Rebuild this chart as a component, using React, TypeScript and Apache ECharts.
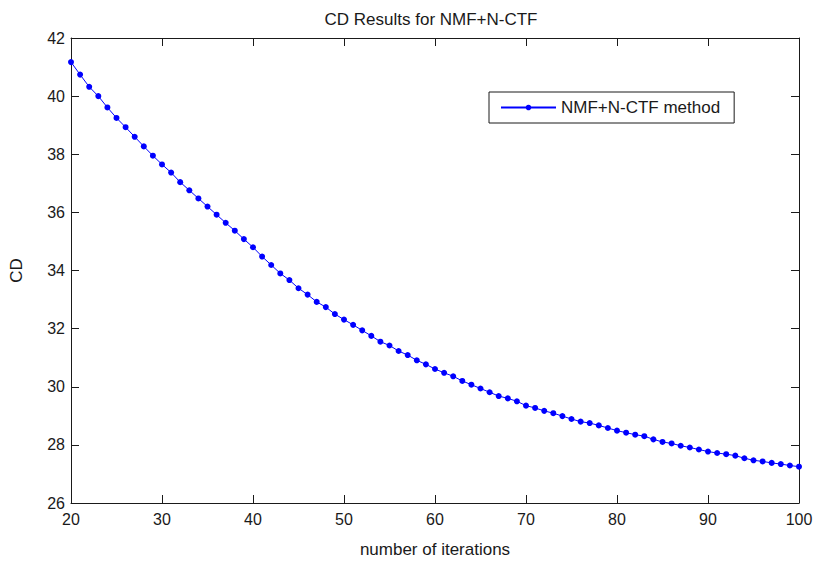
import React, { useEffect, useRef } from "react";
import * as echarts from "echarts";

const iterations = [
  20, 21, 22, 23, 24, 25, 26, 27, 28, 29,
  30, 31, 32, 33, 34, 35, 36, 37, 38, 39,
  40, 41, 42, 43, 44, 45, 46, 47, 48, 49,
  50, 51, 52, 53, 54, 55, 56, 57, 58, 59,
  60, 61, 62, 63, 64, 65, 66, 67, 68, 69,
  70, 71, 72, 73, 74, 75, 76, 77, 78, 79,
  80, 81, 82, 83, 84, 85, 86, 87, 88, 89,
  90, 91, 92, 93, 94, 95, 96, 97, 98, 99,
  100,
];

const cdValues = [
  41.17, 40.74, 40.32, 40.0, 39.61, 39.25, 38.93, 38.6, 38.27, 37.95,
  37.65, 37.37, 37.04, 36.76, 36.48, 36.2, 35.92, 35.64, 35.37, 35.08,
  34.8, 34.48, 34.19, 33.9, 33.67, 33.39, 33.17, 32.92, 32.74, 32.5,
  32.31, 32.13, 31.94, 31.75, 31.55, 31.42, 31.23, 31.09, 30.91, 30.77,
  30.61, 30.48, 30.36, 30.2, 30.07, 29.94, 29.81, 29.68, 29.6, 29.5,
  29.35, 29.27, 29.17, 29.09, 28.99, 28.89, 28.8, 28.75, 28.67, 28.58,
  28.49, 28.42, 28.35, 28.3, 28.19, 28.1, 28.05, 27.97, 27.91, 27.84,
  27.77, 27.72, 27.68, 27.63, 27.54, 27.47, 27.43, 27.38, 27.34, 27.29,
  27.25,
];

const seriesName = "NMF+N-CTF method";
const titleText = "CD Results for NMF+N-CTF";
const xName = "number of iterations";
const yName = "CD";

const FONT = "'Liberation Sans', Arial, sans-serif";
const INK = "#1a1a1a";

export default function App() {
  const ref = useRef<HTMLDivElement>(null);

  useEffect(() => {
    if (!ref.current) return;
    const chart = echarts.init(ref.current, undefined, { renderer: "svg" });
    const data = iterations.map((x, i) => [x, cdValues[i]]);

    const axisCommon = {
      axisLine: { show: true, lineStyle: { color: INK, width: 1 } },
      axisTick: { show: true, inside: true, length: 8, lineStyle: { color: INK, width: 1 } },
      splitLine: { show: false },
    };

    chart.setOption({
      animation: false,
      backgroundColor: "#ffffff",
      textStyle: { fontFamily: FONT },
      graphic: [
        {
          type: "text",
          x: 431,
          y: 19,
          style: {
            text: titleText,
            fill: INK,
            font: `17px ${FONT}`,
            textAlign: "center",
            textVerticalAlign: "middle",
          },
        },
      ],
      grid: { left: 68, top: 38, right: 17, bottom: 51, containLabel: false },
      legend: {
        left: 489,
        top: 92,
        orient: "vertical",
        padding: [7, 14, 7, 11],
        itemWidth: 55,
        itemHeight: 7,
        borderColor: INK,
        borderWidth: 1,
        borderRadius: 0,
        backgroundColor: "#ffffff",
        textStyle: { fontSize: 17, color: INK, fontFamily: FONT },
        data: [seriesName],
      },
      xAxis: [
        {
          type: "value",
          min: 20,
          max: 100,
          interval: 10,
          position: "bottom",
          name: xName,
          nameLocation: "middle",
          nameGap: 38,
          nameTextStyle: { fontSize: 17, color: INK, fontFamily: FONT },
          axisLabel: { fontSize: 16, color: INK, margin: 8, fontFamily: FONT },
          ...axisCommon,
        },
        {
          type: "value",
          min: 20,
          max: 100,
          interval: 10,
          position: "top",
          axisLabel: { show: false },
          ...axisCommon,
        },
      ],
      yAxis: [
        {
          type: "value",
          min: 26,
          max: 42,
          interval: 2,
          position: "left",
          name: yName,
          nameLocation: "middle",
          nameGap: 46,
          nameRotate: 90,
          nameTextStyle: { fontSize: 17, color: INK, fontFamily: FONT },
          axisLabel: { fontSize: 16, color: INK, margin: 6, fontFamily: FONT },
          ...axisCommon,
        },
        {
          type: "value",
          min: 26,
          max: 42,
          interval: 2,
          position: "right",
          axisLabel: { show: false },
          ...axisCommon,
        },
      ],
      series: [
        {
          name: seriesName,
          type: "line",
          xAxisIndex: 0,
          yAxisIndex: 0,
          data,
          symbol: "circle",
          symbolSize: 6,
          showSymbol: true,
          color: "#0000ff",
          lineStyle: { color: "#0000ff", width: 1 },
          itemStyle: { color: "#0000ff" },
        },
      ],
    });

    return () => chart.dispose();
  }, []);

  return (
    <div
      ref={ref}
      style={{ position: "absolute", left: 0, top: 0, width: 816, height: 563, background: "#fff" }}
    />
  );
}
